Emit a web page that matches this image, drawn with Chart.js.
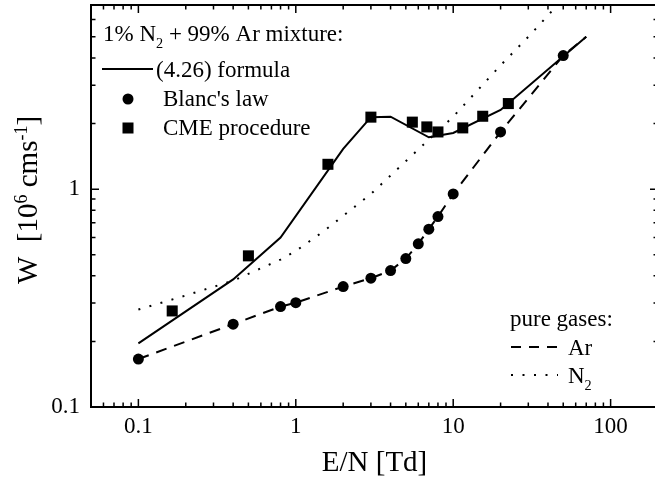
<!DOCTYPE html>
<html>
<head>
<meta charset="utf-8">
<script src="https://cdn.jsdelivr.net/npm/chart.js@4/dist/chart.umd.min.js"></script>
<style>
  html, body { margin: 0; padding: 0; background: #fff; overflow: hidden; width: 655px; height: 480px; }
  #wrap { position: relative; width: 655px; height: 480px; overflow: hidden; }
  #wrap canvas { position: absolute; left: 0; top: 0; display: block; }
</style>
</head>
<body>
<div id="wrap"><canvas id="c" width="662" height="480"></canvas></div>
<script>
// Electron drift velocity W [10^6 cm/s] versus reduced field E/N [Td]

// 1% N2 + 99% Ar mixture, formula (4.26)
const formulaEN = [0.1, 0.4, 0.8, 2, 3, 4, 7, 10, 20, 70];
const formulaW  = [0.196, 0.385, 0.6, 1.53, 2.14, 2.15, 1.73, 1.81, 2.31, 5.0];

// Blanc's law
const blancEN = [0.1, 0.4, 0.8, 1, 2, 3, 4, 5, 6, 7, 8, 10, 20, 50];
const blancW  = [0.166, 0.24, 0.289, 0.301, 0.357, 0.39, 0.423, 0.48, 0.561, 0.655, 0.748, 0.951, 1.83, 4.1];

// CME procedure
const cmeEN = [0.164, 0.5, 1.6, 3, 5.5, 6.8, 8, 11.5, 15.4, 22.4];
const cmeW  = [0.276, 0.494, 1.30, 2.14, 2.03, 1.93, 1.83, 1.91, 2.16, 2.47];

// pure gases
const arEN = [0.1, 0.4, 0.8, 1, 2, 3, 4, 5, 6, 7, 8, 10, 20, 50, 70];
const arW  = [0.166, 0.24, 0.289, 0.301, 0.357, 0.39, 0.423, 0.48, 0.561, 0.655, 0.748, 0.951, 1.83, 4.1, 5.0];
const n2EN = [0.1, 0.2, 0.4, 0.8, 1, 1.5, 3, 6, 10, 20, 30, 46];
const n2W  = [0.28, 0.325, 0.38, 0.475, 0.52, 0.64, 0.95, 1.52, 2.15, 3.7, 5.0, 7.0];

// labelled ticks
const xTickValues = [0.1, 1, 10, 100];
const yTickValues = [0.1, 1];

const SERIF = "'Liberation Serif', 'Times New Roman', serif";

function pts(xs, ys) { return xs.map((x, i) => ({ x: x, y: ys[i] })); }

// all decade/sub-decade tick values inside [min, max]
function logTicks(min, max) {
  const out = [];
  for (let d = Math.floor(Math.log10(min)); d <= Math.ceil(Math.log10(max)); d++) {
    for (let m = 1; m <= 9; m++) {
      const v = Number((m * Math.pow(10, d)).toPrecision(6));
      if (v >= min * 0.9999 && v <= max * 1.0001) out.push({ value: v, major: m === 1 });
    }
  }
  return out;
}

// text with sub/superscript pieces: [string, kind] kind 0 normal, 1 sup, -1 sub
function richWidth(ctx, parts, size) {
  let w = 0;
  for (const [t, k] of parts) {
    ctx.font = (k ? size * 0.62 : size) + 'px ' + SERIF;
    w += ctx.measureText(t).width;
  }
  return w;
}
function richText(ctx, parts, x, y, size) {
  let cx = x;
  for (const [t, k] of parts) {
    const s = k ? size * 0.62 : size;
    ctx.font = s + 'px ' + SERIF;
    const dy = k === 1 ? -size * 0.36 : (k === -1 ? size * 0.32 : 0);
    ctx.fillText(t, cx, y + dy);
    cx += ctx.measureText(t).width;
  }
  return cx - x;
}

// inward ticks on all four sides plus the frame
const framePlugin = {
  id: 'frame',
  afterDraw(chart) {
    const { ctx, chartArea: a, scales: { x, y } } = chart;
    ctx.save();
    ctx.strokeStyle = '#000';
    ctx.lineWidth = 1.5;
    ctx.setLineDash([]);
    ctx.beginPath();
    for (const t of logTicks(x.min, x.max)) {
      const px = x.getPixelForValue(t.value);
      const len = t.major ? 8 : 4.5;
      ctx.moveTo(px, a.bottom); ctx.lineTo(px, a.bottom - len);
      ctx.moveTo(px, a.top); ctx.lineTo(px, a.top + len);
    }
    for (const t of logTicks(y.min, y.max)) {
      const py = y.getPixelForValue(t.value);
      const len = t.major ? 8 : 4.5;
      ctx.moveTo(a.left, py); ctx.lineTo(a.left + len, py);
      ctx.moveTo(a.right, py); ctx.lineTo(a.right - len, py);
    }
    ctx.stroke();
    ctx.lineWidth = 2;
    ctx.strokeRect(a.left, a.top, a.right - a.left, a.bottom - a.top);
    ctx.restore();
  }
};

// axis titles and the two legend boxes
const textPlugin = {
  id: 'texts',
  afterDraw(chart) {
    const { ctx, chartArea: a } = chart;
    ctx.save();
    ctx.fillStyle = '#000';
    ctx.strokeStyle = '#000';
    ctx.textBaseline = 'alphabetic';
    ctx.textAlign = 'left';

    // x title
    const xt = [['E/N [Td]', 0]];
    const xw = richWidth(ctx, xt, 29);
    richText(ctx, xt, (a.left + a.right) / 2 - xw / 2, 471, 29);

    // y title, rotated
    const yt = [['W  [10', 0], ['6', 1], [' cms', 0], ['-1', 1], [']', 0]];
    const yw = richWidth(ctx, yt, 29);
    ctx.save();
    ctx.translate(37, 200 + yw / 2);
    ctx.rotate(-Math.PI / 2);
    richText(ctx, yt, 0, 0, 29);
    ctx.restore();

    // mixture legend
    const fs = 23;
    richText(ctx, [['1% N', 0], ['2', -1], [' + 99% Ar mixture:', 0]], 103, 41, fs);
    ctx.lineWidth = 2;
    ctx.beginPath(); ctx.moveTo(102, 69); ctx.lineTo(153, 69); ctx.stroke();
    richText(ctx, [['(4.26) formula', 0]], 156, 77, fs);
    ctx.beginPath(); ctx.arc(128, 99, 5.5, 0, Math.PI * 2); ctx.fill();
    richText(ctx, [["Blanc's law", 0]], 163, 106, fs);
    ctx.fillRect(122.5, 122.5, 11, 11);
    richText(ctx, [['CME procedure', 0]], 163, 135, fs);

    // pure gases legend
    richText(ctx, [['pure gases:', 0]], 510, 326, fs);
    ctx.setLineDash([10, 8]);
    ctx.beginPath(); ctx.moveTo(511, 347); ctx.lineTo(557, 347); ctx.stroke();
    richText(ctx, [['Ar', 0]], 568, 355, fs);
    ctx.setLineDash([2, 9.5]);
    ctx.beginPath(); ctx.moveTo(511, 375); ctx.lineTo(558, 375); ctx.stroke();
    ctx.setLineDash([]);
    richText(ctx, [['N', 0], ['2', -1]], 568, 383, fs);
    ctx.restore();
  }
};

const tickFont = { family: SERIF, size: 23 };

new Chart(document.getElementById('c'), {
  type: 'scatter',
  data: {
    datasets: [
      { label: "Blanc's law", data: pts(blancEN, blancW), pointStyle: 'circle',
        pointRadius: 5.5, backgroundColor: '#000', borderWidth: 0, showLine: false },
      { label: 'CME procedure', data: pts(cmeEN, cmeW), pointStyle: 'rect',
        pointRadius: 7.8, backgroundColor: '#000', borderWidth: 0, showLine: false },
      { label: '(4.26) formula', data: pts(formulaEN, formulaW), showLine: true,
        borderColor: '#000', borderWidth: 2, pointRadius: 0, fill: false },
      { label: 'Ar', data: pts(arEN, arW), showLine: true, borderColor: '#000',
        borderWidth: 2, borderDash: [11, 8], pointRadius: 0, fill: false },
      { label: 'N2', data: pts(n2EN, n2W), showLine: true, borderColor: '#000',
        borderWidth: 2, borderDash: [2, 9.5], borderCapStyle: 'butt', pointRadius: 0, fill: false }
    ]
  },
  options: {
    responsive: false,
    animation: false,
    devicePixelRatio: 1,
    events: [],
    layout: { autoPadding: false, padding: { left: 0, right: 4, top: 5, bottom: 0 } },
    plugins: { legend: { display: false }, tooltip: { enabled: false } },
    scales: {
      x: {
        type: 'logarithmic', position: 'bottom', min: 0.05, max: 200,
        grid: { display: false, drawTicks: false }, border: { display: false },
        ticks: { font: tickFont, color: '#000', padding: 6, autoSkip: false, maxRotation: 0,
                 callback: v => String(v) },
        afterBuildTicks: s => { s.ticks = xTickValues.map(v => ({ value: v })); },
        afterFit: s => { s.height = 73; s.paddingLeft = 0; s.paddingRight = 0; }
      },
      y: {
        type: 'logarithmic', position: 'left', min: 0.1, max: 7,
        grid: { display: false, drawTicks: false }, border: { display: false },
        ticks: { font: tickFont, color: '#000', padding: 11, autoSkip: false,
                 callback: v => String(v) },
        afterBuildTicks: s => { s.ticks = yTickValues.map(v => ({ value: v })); },
        afterFit: s => { s.width = 91; s.paddingTop = 0; s.paddingBottom = 0; }
      }
    }
  },
  plugins: [framePlugin, textPlugin]
});
</script>
</body>
</html>
